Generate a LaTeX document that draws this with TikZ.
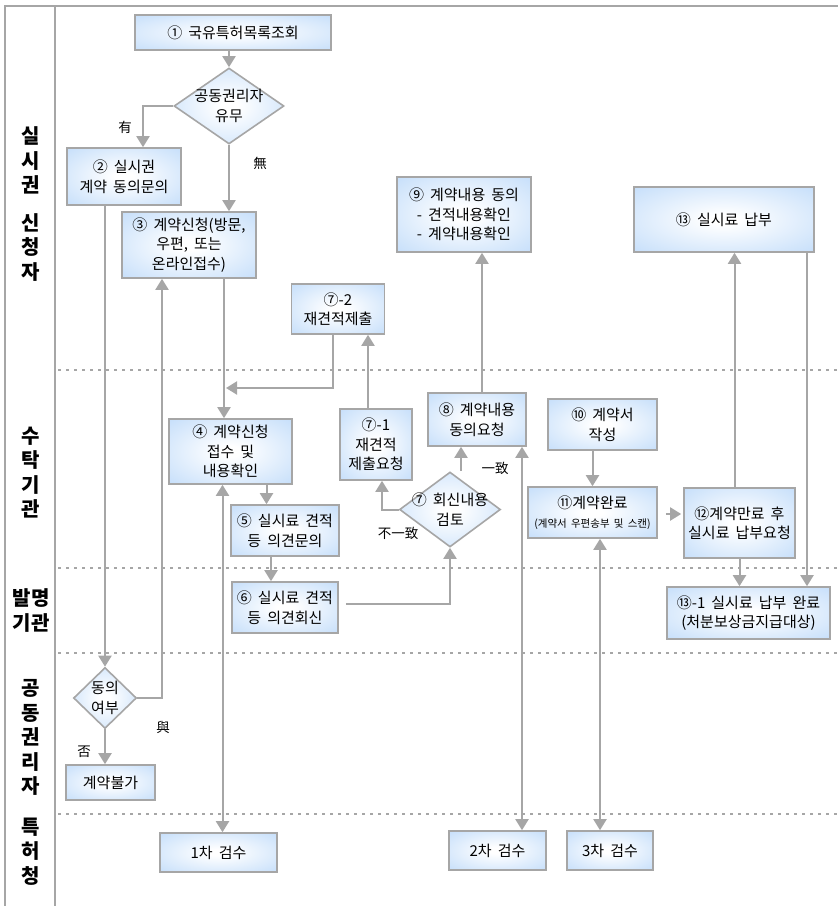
\documentclass[tikz,border=0pt]{standalone}
\usepackage{fontspec}
\setmainfont[WordSpace=1.8]{Noto Sans CJK KR}
\usepackage{tikz}
\usetikzlibrary{calc}
\usetikzlibrary{arrows.meta, shapes.geometric, positioning}
\definecolor{boxblue}{RGB}{172,208,248}
\definecolor{linegray}{RGB}{166,166,166}
\pgfdeclareradialshading{boxshade}{\pgfpoint{0bp}{0bp}}{color(0bp)=(white); color(4bp)=(white); color(50bp)=(boxblue)}
\tikzset{>={Triangle[length=11pt,width=13pt]}}

\begin{document}
\begin{tikzpicture}[x=1pt, y=-1pt,
    box/.style={draw=linegray, line width=1.6pt, shade, shading=boxshade, align=center, inner sep=0pt, font=\fontsize{15}{19.5}\selectfont},
    dia/.style={draw=linegray, line width=1.6pt, shade, shading=boxshade, diamond, inner sep=0pt},
    dtext/.style={align=center, font=\fontsize{15}{19.5}\selectfont},
    flow/.style={draw=linegray, line width=2pt},
    lane/.style={align=center, font=\fontsize{20}{24.5}\selectfont\bfseries},
    tag/.style={font=\fontsize{13.5}{15}\selectfont}]
  \useasboundingbox (0,0) rectangle (838,908);
  % frame and lanes
  \draw[linegray, line width=1.5pt] (838,6) -- (5,6) -- (5,906);
  \draw[linegray, line width=1.5pt] (55,6) -- (55,906);
  \foreach \y in {370,568,653,814}
    \draw[linegray, line width=1.5pt, dash pattern=on 3pt off 5pt] (58,\y) -- (838,\y);
  \node[lane] (l1) at (31,204) {실\\시\\권\\[13pt]신\\청\\자};
  \node[lane] (l2) at (31,472.5) {수\\탁\\기\\관};
  \node[lane] (l3) at (31,610.5) {발명\\기관};
  \node[lane] (l4) at (31,737.5) {공\\동\\권\\리\\자};
  \node[lane] (l5) at (31,851.5) {특\\허\\청};

  % steps
  \node[box, minimum width=196pt, minimum height=35pt] (n1) at (233,32.5) {① 국유특허목록조회};
  \node[dia, minimum width=110pt, minimum height=76pt, label={[dtext]center:공동권리자\\유무}] (d1) at (229,106) {};
  \node[box, minimum width=114pt, minimum height=57pt] (n2) at (124,176.5) {② 실시권\\계약 동의문의};
  \node[box, minimum width=134pt, minimum height=66pt] (n3) at (189,245) {③ 계약신청(방문,\\우편, 또는\\온라인접수)};
  \node[box, minimum width=134pt, minimum height=75pt] (n9) at (464,214.5) {⑨ 계약내용 동의\\- 견적내용확인\\- 계약내용확인};
  \node[box, minimum width=180pt, minimum height=65pt] (n13) at (724,219.5) {⑬ 실시료 납부};
  \node[box, minimum width=93pt, minimum height=50pt] (n72) at (338,309) {⑦-2\\재견적제출};
  \node[box, minimum width=123pt, minimum height=65pt] (n4) at (230.5,451.5) {④ 계약신청\\접수 및\\내용확인};
  \node[box, minimum width=72pt, minimum height=71pt] (n71) at (376,444.5) {⑦-1\\재견적\\제출요청};
  \node[box, minimum width=98pt, minimum height=53pt] (n8) at (477,419.5) {⑧ 계약내용\\동의요청};
  \node[box, minimum width=108pt, minimum height=51pt] (n5) at (285,530.5) {⑤ 실시료 견적\\등 의견문의};
  \node[dia, minimum width=101pt, minimum height=75pt, label={[dtext]center:⑦ 회신내용\\검토}] (d7) at (450,509.5) {};
  \node[box, minimum width=109pt, minimum height=51pt] (n10) at (602.5,424.5) {⑩ 계약서\\작성};
  \node[box, minimum width=129pt, minimum height=51pt] (n11) at (592.5,512.5) {⑪계약완료\\{\fontsize{10.5}{13}\selectfont (계약서 우편송부 및 스캔)}};
  \node[box, minimum width=111pt, minimum height=70pt] (n12) at (739.5,523) {⑫계약만료 후\\실시료 납부요청};
  \node[box, minimum width=106pt, minimum height=51pt] (n6) at (285,607.5) {⑥ 실시료 견적\\등 의견회신};
  \node[box, minimum width=163pt, minimum height=52pt] (n131) at (748.5,613) {⑬-1 실시료 납부 완료\\(처분보상금지급대상)};
  \node[dia, minimum width=63pt, minimum height=61pt, label={[dtext]center:동의\\여부}] (dA) at (105,698) {};
  \node[box, minimum width=89pt, minimum height=35pt] (nX) at (110.5,782.5) {계약불가};
  \node[box, minimum width=117pt, minimum height=39pt] (c1) at (218.5,852.5) {1차 검수};
  \node[box, minimum width=97pt, minimum height=39pt] (c2) at (497.5,850.5) {2차 검수};
  \node[box, minimum width=86pt, minimum height=39pt] (c3) at (610,850.5) {3차 검수};

  % branch tags
  \node[tag] (t1) at (125,127) {有};
  \node[tag] (t2) at (260,163) {無};
  \node[tag] (t3) at (163,727) {與};
  \node[tag] (t4) at (84,752) {否};
  \node[tag] (t5) at (398,533) {不一致};
  \node[tag] (t6) at (495,468) {一致};

  \coordinate (j34) at (226,388);

  % connectors
  \draw[flow,->] (n1.south -| d1.north) -- (d1.north);
  \draw[flow,->] (d1.west) -| ([xshift=19pt]n2.north);
  \draw[flow,->] (d1.south) -- (d1.south |- n3.north);
  \draw[flow,->] (dA.north |- n2.south) -- (dA.north);
  \draw[flow,->] (dA.east) -| ([xshift=-27pt]n3.south);
  \draw[flow,->] (dA.south) -- (dA.south |- nX.north);
  \draw[flow,->] ([xshift=35pt]n3.south) -- ([xshift=35pt]n3.south |- n4.north);
  \draw[flow,->] ([xshift=-5pt]n72.south) |- (j34);
  \draw[flow,->] ([xshift=-8pt]n71.north) -- ([xshift=-8pt]n71.north |- n72.south);
  \draw[flow,->] (d7.west) -| ([xshift=6pt]n71.south);
  \draw[flow,->] ([xshift=11pt]d7.north) -- ([xshift=11pt]d7.north |- n8.south);
  \draw[flow,->] ([xshift=5pt]n8.north) -- ([xshift=5pt]n8.north |- n9.south);
  \draw[flow,->] ([xshift=36pt]n4.south) -- ([xshift=36pt]n4.south |- n5.north);
  \draw[flow,->] ([xshift=-14pt]n5.south) -- ([xshift=-14pt]n5.south |- n6.north);
  \draw[flow,->] ([shift={(7pt,4pt)}]n6.east) -| (d7.south);
  \draw[flow,<->] ([xshift=-8pt]n4.south) -- ([xshift=-8pt]n4.south |- c1.north);
  \draw[flow,<->] ([xshift=45pt]n8.south) -- ([xshift=45pt]n8.south |- c2.north);
  \draw[flow,<->] ([xshift=7.5pt]n11.south) -- ([xshift=7.5pt]n11.south |- c3.north);
  \draw[flow,->] (n10.south -| n11.north) -- (n11.north);
  \draw[flow,->, shorten <=8pt, shorten >=2pt] ([yshift=-1.5pt]n11.east) -- ([yshift=-1.5pt]n11.east -| n12.west);
  \draw[flow,->] ([xshift=-5pt]n12.north) -- ([xshift=-5pt]n12.north |- n13.south);
  \draw[flow,->] (n12.south) -- (n12.south |- n131.north);
  \draw[flow,->] ([xshift=83pt]n13.south) -- ([xshift=83pt]n13.south |- n131.north);
\end{tikzpicture}
\end{document}
